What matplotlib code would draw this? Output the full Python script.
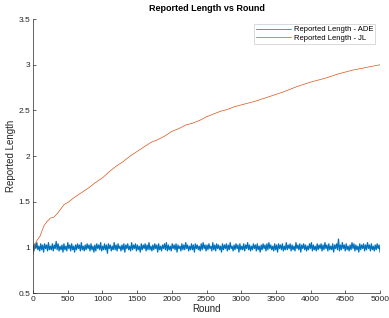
import numpy as np
import matplotlib
matplotlib.use("Agg")
import matplotlib.pyplot as plt

plt.rcParams['font.family'] = ['Liberation Sans', 'DejaVu Sans']

# JL reported length
jl_rounds = [0, 20, 40, 60, 80, 100, 130, 160, 200, 250, 300, 350, 400, 450, 500, 550, 600,
             700, 800, 900, 1000, 1100, 1200, 1300, 1400, 1500, 1600, 1700, 1800, 1900, 2000,
             2100, 2200, 2300, 2400, 2500, 2600, 2700, 2800, 2900, 3000, 3200, 3400, 3600,
             3800, 4000, 4200, 4400, 4600, 4800, 5000]
jl_values = [0.92, 1.00, 1.05, 1.08, 1.10, 1.12, 1.18, 1.24, 1.28, 1.32, 1.33, 1.37, 1.42, 1.47,
             1.49, 1.52, 1.55, 1.60, 1.65, 1.71, 1.76, 1.83, 1.89, 1.94, 2.00, 2.05, 2.10, 2.15,
             2.18, 2.22, 2.27, 2.30, 2.34, 2.36, 2.39, 2.43, 2.46, 2.49, 2.51, 2.54, 2.56, 2.60,
             2.65, 2.70, 2.76, 2.81, 2.85, 2.90, 2.94, 2.97, 3.00]

# ADE reported length: deviations from 1 in steps of 0.013 (read as a band around 1)
ade_step = 0.013
ade_dev = [
 2,-3,3,-1,4,-2,1,-3,3,-2,2,-4,3,-1,2,-3,4,-2,1,-2,3,-3,2,-1,5,-2,3,-3,1,-2,2,-4,3,-2,1,-3,4,-1,2,-3,3,-2,1,-4,2,-2,3,-1,2,-3,4,-2,1,-3,2,-2,3,-1,2,-3,
 3,-2,1,-4,2,-3,3,-1,2,-2,4,-3,1,-2,3,-2,2,-5,3,-1,2,-3,1,-2,4,-2,2,-3,3,-1,1,-3,2,-2,3,-4,2,-1,3,-2,1,-3,4,-2,2,-1,3,-3,2,-2,1,-4,3,-2,2,-1,3,-3,2,-2,
 4,-2,1,-3,2,-2,3,-1,2,-4,3,-2,1,-3,2,-1,3,-2,4,-3,2,-2,1,-3,3,-1,2,-2,3,-4,2,-1,1,-3,3,-2,2,-2,4,-1,2,-3,1,-2,3,-2,2,-4,3,-1,2,-2,1,-3,3,-2,4,-1,2,-3,
 2,-2,3,-1,1,-3,4,-2,2,-3,3,-1,2,-2,1,-4,3,-2,2,-1,3,-3,2,-2,4,-1,1,-3,2,-2,3,-1,2,-4,3,-2,1,-2,3,-3,2,-1,4,-2,2,-3,1,-2,3,-1,2,-3,3,-2,1,-4,2,-2,3,-1,
 2,-3,3,-2,4,-1,2,-2,1,-3,3,-2,2,-4,3,-1,2,-2,3,-3,1,-2,4,-2,2,-1,3,-3,2,-2,1,-3,4,-1,2,-2,3,-4,2,-1,3,-2,2,-3,1,-2,3,-1,4,-3,2,-2,1,-3,3,-2,2,-1,3,-3,
 2,-2,4,-1,2,-3,3,-2,1,-2,3,-4,2,-1,3,-2,7,-3,2,-2,4,-1,2,-3,3,-2,1,-3,2,-2,4,-1,3,-3,2,-2,1,-4,3,-2,2,-1,3,-3,2,-2,4,-1,2,-3,3,-2,1,-3,2,-2,3,-1,2,-4,
]
ade_values = [1 + d * ade_step for d in ade_dev]
ade_rounds = np.linspace(0, 5000, len(ade_values))

x_ticks = list(range(0, 5001, 500))
y_ticks = [0.5, 1, 1.5, 2, 2.5, 3, 3.5]
y_tick_labels = ['0.5', '1', '1.5', '2', '2.5', '3', '3.5']

fig = plt.figure(figsize=(3.89, 3.18), dpi=100)
ax = fig.add_axes([0.0848, 0.0786, 0.8922, 0.8614])

ax.plot(ade_rounds, ade_values, color='#0072BD', linewidth=0.9, label='Reported Length - ADE')
ax.plot(jl_rounds, jl_values, color='#D95319', linewidth=0.5, label='Reported Length - JL')

ax.set_xlim(0, 5000)
ax.set_ylim(0.5, 3.5)
ax.set_xticks(x_ticks)
ax.set_xticklabels([str(t) for t in x_ticks])
ax.set_yticks(y_ticks)
ax.set_yticklabels(y_tick_labels)

for s in ['top', 'right']:
    ax.spines[s].set_visible(False)
for s in ['left', 'bottom']:
    ax.spines[s].set_color('#262626')
    ax.spines[s].set_linewidth(0.5)
ax.tick_params(direction='in', length=2.5, width=0.5, colors='#262626', labelsize=6, pad=2)

ax.set_title('Reported Length vs Round', fontsize=6.5, fontweight='bold', pad=6)
ax.set_xlabel('Round', fontsize=7, labelpad=1, color='#262626')
ax.set_ylabel('Reported Length', fontsize=7, labelpad=2, color='#262626')

leg = ax.legend(loc='upper right', fontsize=5.5, frameon=True, fancybox=False,
                edgecolor='#bdbdbd', handlelength=4.5, borderpad=0.3, labelspacing=0.15,
                handletextpad=0.4, borderaxespad=0.6)
leg.get_frame().set_linewidth(0.5)
for line in leg.get_lines():
    line.set_linewidth(0.5)

fig.savefig('out.png', dpi=100)
